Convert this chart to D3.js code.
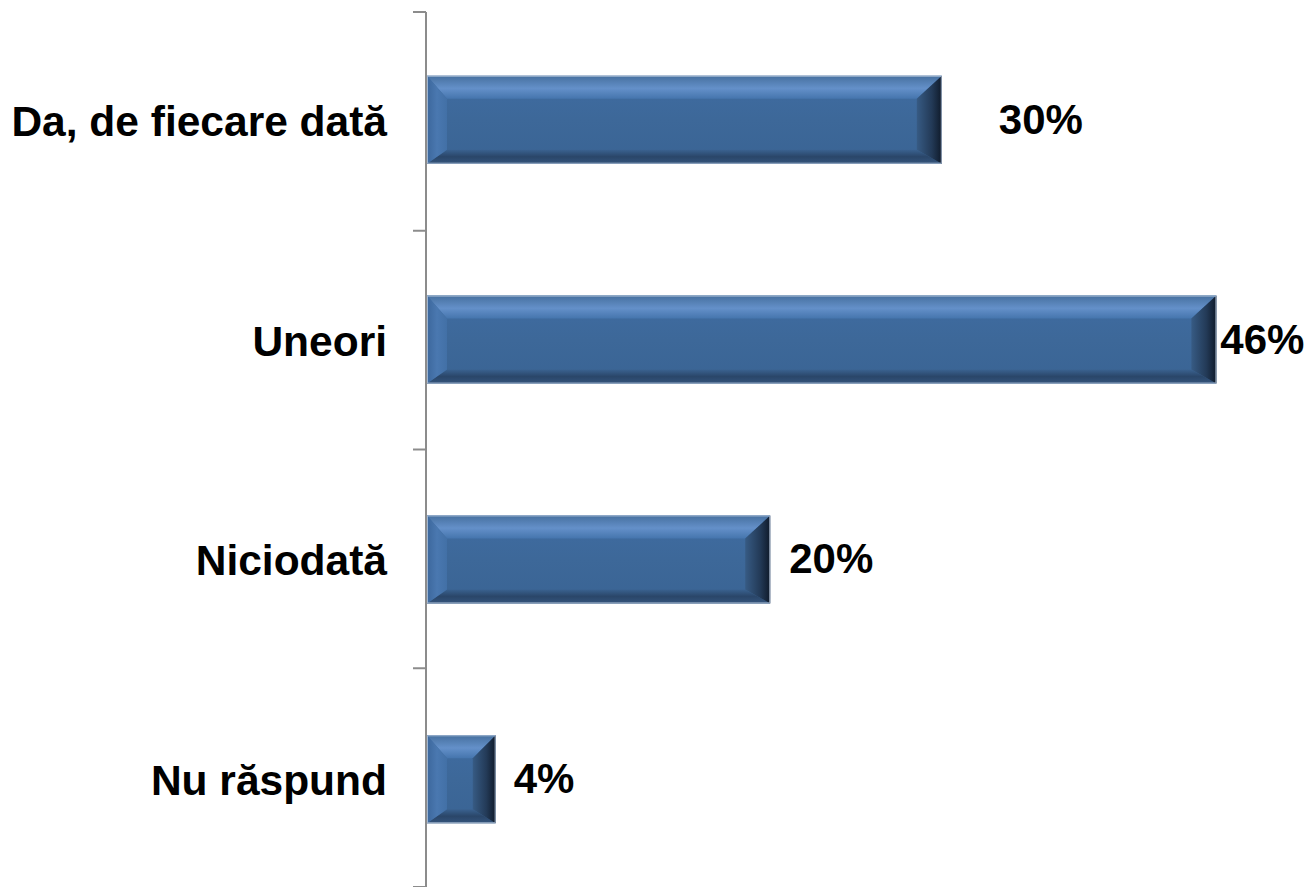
<!DOCTYPE html>
<html>
<head>
<meta charset="utf-8">
<script src="https://cdn.jsdelivr.net/npm/d3@7"></script>
<style>
  html, body { margin: 0; padding: 0; background: #ffffff; }
  svg { display: block; }
</style>
</head>
<body>
<svg id="chart" width="1310" height="887"></svg>
<script>
// Survey answers and their shares (percent)
const categories = ["Da, de fiecare dată", "Uneori", "Niciodată", "Nu răspund"];
const values = [30, 46, 20, 4];
const valueLabels = ["30%", "46%", "20%", "4%"];

const W = 1310, H = 887;
const margin = { top: 12, right: 0, bottom: 0, left: 427 };
const svg = d3.select("#chart");

const x = d3.scaleLinear().domain([0, 50]).range([margin.left, margin.left + 858]);
const y = d3.scaleBand().domain(categories).range([margin.top, H]).paddingInner(0.6).paddingOuter(0.29);
const yTicks = d3.scaleBand().domain(categories).range([margin.top, H]);

// Gradients for the bevelled bar faces
const defs = svg.append("defs");
function grad(id, x1, y1, x2, y2, stops) {
  const g = defs.append("linearGradient").attr("id", id)
    .attr("x1", x1).attr("y1", y1).attr("x2", x2).attr("y2", y2);
  stops.forEach(([o, c]) => g.append("stop").attr("offset", o).attr("stop-color", c));
}
grad("gFace", 0, 0, 0, 1, [[0, "#3f6ca2"], [0.5, "#3d6899"], [1, "#3a6494"]]);
grad("gTop", 0, 0, 0, 1, [[0, "#46709f"], [0.55, "#6490c9"], [1, "#4575ad"]]);
grad("gBottom", 0, 0, 0, 1, [[0, "#3a6290"], [0.5, "#2a4669"], [1, "#34547c"]]);
grad("gLeft", 0, 0, 1, 0, [[0, "#3c679c"], [0.5, "#4a78b0"], [1, "#4270a6"]]);
grad("gRight", 0, 0, 1, 0, [[0, "#375b84"], [0.6, "#233a57"], [1, "#0f1a2a"]]);

// Bars
const bars = svg.append("g").selectAll("g.bar")
  .data(categories.map((c, i) => ({ c, v: values[i], label: valueLabels[i] })))
  .join("g").attr("class", "bar");

bars.each(function (d) {
  const g = d3.select(this);
  const x0 = x(0), x1 = x(d.v);
  const y0 = y(d.c), y1 = y0 + y.bandwidth();
  const w = x1 - x0;
  const bl = Math.min(20, w / 3);       // left bevel
  const br = Math.min(25, w / 3);       // right bevel
  const bt = 23, bb = 14;               // top / bottom bevel
  const ix0 = x0 + bl, ix1 = x1 - br, iy0 = y0 + bt, iy1 = y1 - bb;
  const poly = pts => pts.map(p => p.join(",")).join(" ");

  g.append("rect").attr("x", x0).attr("y", y0).attr("width", w).attr("height", y1 - y0)
    .attr("fill", "url(#gFace)");
  g.append("polygon").attr("points", poly([[x0, y0], [x1, y0], [ix1, iy0], [ix0, iy0]]))
    .attr("fill", "url(#gTop)");
  g.append("polygon").attr("points", poly([[x0, y1], [x1, y1], [ix1, iy1], [ix0, iy1]]))
    .attr("fill", "url(#gBottom)");
  g.append("polygon").attr("points", poly([[x0, y0], [ix0, iy0], [ix0, iy1], [x0, y1]]))
    .attr("fill", "url(#gLeft)");
  g.append("polygon").attr("points", poly([[x1, y0], [ix1, iy0], [ix1, iy1], [x1, y1]]))
    .attr("fill", "url(#gRight)");
  g.append("rect").attr("x", x0 + 0.5).attr("y", y0 + 0.5).attr("width", w - 1).attr("height", y1 - y0 - 1)
    .attr("fill", "none").attr("stroke", "#b9c9de").attr("stroke-width", 1).attr("stroke-opacity", 0.8);
});

// Value labels to the right of each bar
const labelGap = [57, 4, 19, 18];
bars.append("text")
  .attr("x", (d, i) => x(d.v) + labelGap[i])
  .attr("y", d => y(d.c) + y.bandwidth() / 2 + 14)
  .attr("font-family", "Liberation Sans, Arial, sans-serif")
  .attr("font-weight", "bold")
  .attr("font-size", 42)
  .attr("fill", "#000")
  .text(d => d.label);

// Category axis
const axis = svg.append("g").attr("transform", `translate(${margin.left - 1},0)`);
axis.append("line").attr("x1", 0).attr("x2", 0).attr("y1", margin.top).attr("y2", H)
  .attr("stroke", "#8c8c8c").attr("stroke-width", 2);
const tickYs = categories.map(c => yTicks(c)).concat([H]);
axis.selectAll("line.tick").data(tickYs).join("line").attr("class", "tick")
  .attr("x1", -13).attr("x2", 0).attr("y1", d => d).attr("y2", d => d)
  .attr("stroke", "#8c8c8c").attr("stroke-width", 2);

axis.selectAll("text.cat").data(categories).join("text").attr("class", "cat")
  .attr("x", -39)
  .attr("y", c => y(c) + y.bandwidth() / 2 + 16)
  .attr("text-anchor", "end")
  .attr("font-family", "Liberation Sans, Arial, sans-serif")
  .attr("font-weight", "bold")
  .attr("font-size", 42.5)
  .attr("fill", "#000")
  .text(c => c);
</script>
</body>
</html>
